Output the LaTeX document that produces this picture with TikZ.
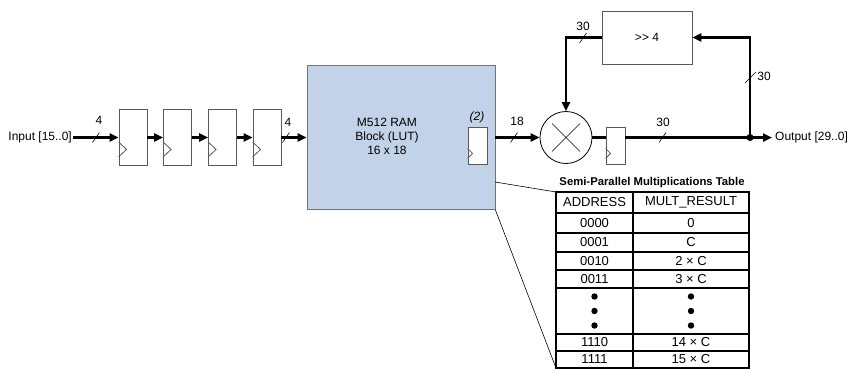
\documentclass[tikz,border=0pt]{standalone}
\usepackage{fontspec}
\setmainfont{Liberation Sans}
\usetikzlibrary{arrows.meta}

\begin{document}
\begin{tikzpicture}[x=1pt, y=-1pt, >={Triangle[length=9pt,width=8pt]},
    every node/.style={font=\fontsize{12}{14}\selectfont},
    bus/.style={line width=2.6pt},
    reg/.style={draw=black!65, line width=0.9pt, fill=white, inner sep=0pt},
    clk/.style={black!65, line width=0.8pt},
    slash/.style={line width=0.6pt},
    cell/.style={font=\fontsize{13}{15}\selectfont, inner sep=0pt}]

        % Colours of the block diagram
        \definecolor{ramblue}{RGB}{194, 211, 233}

        \useasboundingbox (0,0) rectangle (849,370);

        % Input and the four delay registers
        \node[anchor=east, inner sep=1pt] (in) at (73,137.5) {Input [15..0]};
        \foreach \x [count=\i] in {133, 177.5, 222.5, 267} {
            \node[reg, minimum width=28pt, minimum height=56pt] (r\i) at (\x,137.5) {};
            \draw[clk] (r\i.south west) ++(0,-9) -- ++(8,-7.5) -- ++(-8,-7.5);
        }

        % M512 RAM look-up table with its output register
        \node[draw=black!55, line width=0.8pt, fill=ramblue, minimum width=188pt,
              minimum height=144pt] (ram) at (401,137.5) {};
        \node[align=center] (ramtxt) at (387,136.5) {M512 RAM\\Block (LUT)\\16 x 18};
        \node[reg, minimum width=19pt, minimum height=37pt] (ireg) at (477.5,145.5) {};
        \draw[clk] (ireg.south west) ++(0,-6) -- ++(5,-5) -- ++(-5,-5);
        \node[font=\fontsize{12}{14}\selectfont\itshape] (two) at (477,117) {(2)};

        % Multiplier, output register and shift
        \node[circle, draw, line width=0.8pt, minimum size=52pt, inner sep=0pt] (mul) at (566,137.5) {};
        \draw[line width=0.6pt] (mul.center) +(-14,-14) -- +(14,14);
        \draw[line width=0.6pt] (mul.center) +(-14,14) -- +(14,-14);
        \node[reg, minimum width=19pt, minimum height=37pt] (oreg) at (615.5,145.5) {};
        \draw[clk] (oreg.south west) ++(0,-6) -- ++(5,-5) -- ++(-5,-5);
        \node[draw=black!65, line width=0.8pt, minimum width=90pt, minimum height=53pt] (shr) at (647,37.5) {>\kern0pt> 4};
        \coordinate (jn) at (750,137.5);
        \node[anchor=west, inner sep=3pt] (out) at (772,137.5) {Output [29..0]};

        % Data paths
        \draw[bus, ->] (in) -- (r1);
        \draw[bus, ->] (r1) -- (r2);
        \draw[bus, ->] (r2) -- (r3);
        \draw[bus, ->] (r3) -- (r4);
        \draw[bus, ->] (r4) -- (ram);
        \draw[bus, ->] (ram) -- (mul);
        \draw[bus] (mul.east) -- (mul.east -| oreg.west);
        \draw[bus] (oreg.east |- jn) -- (jn);
        \draw[bus, ->] (jn) -- (out.west);
        \draw[bus, ->] (jn) |- (shr.east);
        \draw[bus, ->] (shr.west) -| (mul.north);
        \fill (jn) circle (3.5);

        % Bus widths
        \draw[slash] (92.5,142.5) -- (99.5,132.5);
        \node (w1) at (99,120) {4};
        \draw[slash] (282.5,142.5) -- (289.5,132.5);
        \node (w2) at (288,122) {4};
        \draw[slash] (510.5,142.5) -- (517.5,132.5);
        \node (w3) at (517,121) {18};
        \draw[slash] (659,142.5) -- (666,132.5);
        \node (w4) at (663,122) {30};
        \draw[slash] (579.5,43) -- (586.5,33);
        \node (w5) at (583,26) {30};
        \draw[slash] (745,83) -- (756,72);
        \node (w6) at (764,76) {30};

        % Look-up table contents
        \node[font=\fontsize{11.3}{13}\selectfont\bfseries] (title) at (652,183) {Semi-Parallel Multiplications Table};
        \coordinate (tnw) at (556,192);
        \coordinate (tse) at (749,368);
        \coordinate (tsw) at (556,368);
        \coordinate (lnk) at (495,182);
        \draw[line width=1.3pt] (tnw) rectangle (tse);
        \draw[line width=1.3pt] (633,192) -- (633,368);
        \foreach \y in {213, 233, 252, 270, 288, 334, 351}
            \draw[line width=1.3pt] (556,\y) -- (749,\y);
        \foreach \y/\adr/\res [count=\k] in {202.5/ADDRESS/MULT\_RESULT, 223/0000/0, 242.5/0001/C,
                261/0010/2 × C, 279/0011/3 × C, 342.5/1110/14 × C, 359.5/1111/15 × C} {
            \node[cell] (a\k) at (594.5,\y) {\adr};
            \node[cell] (m\k) at (691,\y) {\res};
        }
        \foreach \y in {296.5, 311, 325.5} {
            \fill (594.5,\y) circle (3.2);
            \fill (691,\y) circle (3.2);
        }
        \draw[line width=0.6pt] (lnk) -- (tnw);
        \draw[line width=0.6pt] (ram.south east) -- (tsw);

    \end{tikzpicture}
\end{document}
